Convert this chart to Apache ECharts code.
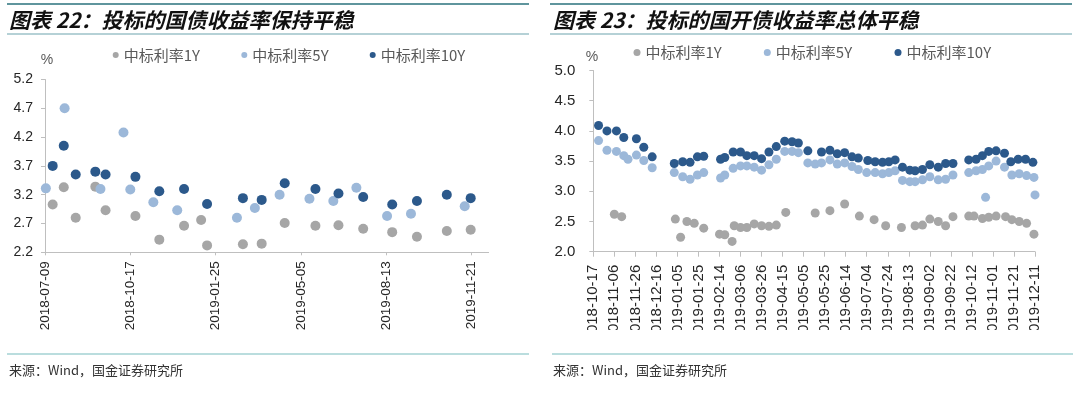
<!DOCTYPE html>
<html>
<head>
<meta charset="utf-8">
<script src="https://cdn.jsdelivr.net/npm/echarts@6/dist/echarts.min.js"></script>
<style>
html,body{margin:0;padding:0;background:#fff;}
#frame{position:absolute;left:0;top:0;width:1080px;height:393px;}
#c1{position:absolute;left:0;top:0;width:540px;height:393px;}
#c2{position:absolute;left:540px;top:0;width:540px;height:330px;}
</style>
</head>
<body>
<div id="frame"></div>
<div id="c1"></div>
<div id="c2"></div>
<script>
// ---------- Chart 1 data (国债) ----------
const c1Title = '图表 22：投标的国债收益率保持平稳';
const c1XTicks = ['2018-07-09','2018-10-17','2019-01-25','2019-05-05','2019-08-13','2019-11-21'];
const c1XEnd = '2019-12-11';
const c1YTicks = [2.2, 2.7, 3.2, 3.7, 4.2, 4.7, 5.2];
const c1Dates1Y = ['2018-07-18','2018-07-31','2018-08-14','2018-09-06','2018-09-18','2018-10-23','2018-11-20','2018-12-19','2019-01-08','2019-01-15','2019-02-26','2019-03-20','2019-04-16','2019-05-22','2019-06-18','2019-07-17','2019-08-20','2019-09-18','2019-10-23','2019-11-20'];
const c1Vals1Y = [3.03,3.33,2.80,3.34,2.93,2.83,2.42,2.66,2.76,2.32,2.34,2.35,2.71,2.66,2.67,2.61,2.55,2.47,2.57,2.59];
const c1Dates5Y = ['2018-07-10','2018-08-01','2018-09-12','2018-10-09','2018-10-17','2018-11-13','2018-12-11','2019-02-19','2019-03-12','2019-04-10','2019-05-15','2019-06-12','2019-07-09','2019-08-14','2019-09-11','2019-11-13'];
const c1Vals5Y = [3.31,4.70,3.30,4.28,3.29,3.07,2.93,2.80,2.97,3.20,3.13,3.09,3.32,2.83,2.87,3.00];
const c1Dates10Y = ['2018-07-18','2018-07-31','2018-08-14','2018-09-06','2018-09-18','2018-10-23','2018-11-20','2018-12-19','2019-01-15','2019-02-26','2019-03-20','2019-04-16','2019-05-22','2019-06-18','2019-07-17','2019-08-20','2019-09-18','2019-10-23','2019-11-20'];
const c1Vals10Y = [3.70,4.05,3.55,3.60,3.55,3.51,3.26,3.30,3.04,3.14,3.11,3.40,3.30,3.22,3.16,3.03,3.09,3.20,3.14];

// ---------- Chart 2 data (国开债) ----------
const c2Title = '图表 23：投标的国开债收益率总体平稳';
const c2XTicks = ['2018-10-17','2018-11-06','2018-11-26','2018-12-16','2019-01-05','2019-01-25','2019-02-14','2019-03-06','2019-03-26','2019-04-15','2019-05-05','2019-05-25','2019-06-14','2019-07-04','2019-07-24','2019-08-13','2019-09-02','2019-09-22','2019-10-12','2019-11-01','2019-11-21','2019-12-11'];
const c2YTicks = [2.0, 2.5, 3.0, 3.5, 4.0, 4.5, 5.0];
const c2Dates1Y = ['2018-11-06','2018-11-13','2019-01-03','2019-01-08','2019-01-14','2019-01-21','2019-01-30','2019-02-14','2019-02-19','2019-02-26','2019-02-28','2019-03-06','2019-03-12','2019-03-19','2019-03-26','2019-04-02','2019-04-09','2019-04-18','2019-05-16','2019-05-30','2019-06-13','2019-06-27','2019-07-11','2019-07-22','2019-08-06','2019-08-19','2019-08-26','2019-09-02','2019-09-10','2019-09-17','2019-09-24','2019-10-09','2019-10-14','2019-10-22','2019-10-28','2019-11-04','2019-11-13','2019-11-19','2019-11-26','2019-12-03','2019-12-10'];
const c2Vals1Y = [2.62,2.58,2.54,2.24,2.50,2.47,2.39,2.29,2.28,2.17,2.43,2.40,2.40,2.46,2.43,2.42,2.44,2.65,2.64,2.68,2.79,2.59,2.53,2.43,2.40,2.43,2.44,2.54,2.50,2.43,2.58,2.59,2.59,2.55,2.57,2.59,2.58,2.53,2.50,2.47,2.29];
const c2Dates5Y = ['2018-10-22','2018-10-30','2018-11-08','2018-11-15','2018-11-19','2018-11-27','2018-12-04','2018-12-12','2019-01-02','2019-01-10','2019-01-17','2019-01-24','2019-01-30','2019-02-15','2019-02-19','2019-02-27','2019-03-06','2019-03-12','2019-03-19','2019-03-26','2019-04-02','2019-04-09','2019-04-17','2019-04-24','2019-04-30','2019-05-09','2019-05-16','2019-05-22','2019-05-30','2019-06-06','2019-06-13','2019-06-20','2019-06-26','2019-07-04','2019-07-12','2019-07-19','2019-07-25','2019-07-31','2019-08-07','2019-08-14','2019-08-19','2019-08-26','2019-09-02','2019-09-10','2019-09-17','2019-09-24','2019-10-09','2019-10-16','2019-10-22','2019-10-25','2019-10-28','2019-11-04','2019-11-12','2019-11-19','2019-11-26','2019-12-03','2019-12-10','2019-12-11'];
const c2Vals5Y = [3.84,3.68,3.66,3.59,3.53,3.60,3.51,3.39,3.31,3.24,3.20,3.27,3.31,3.22,3.27,3.38,3.42,3.42,3.40,3.35,3.44,3.53,3.66,3.66,3.64,3.47,3.45,3.47,3.52,3.45,3.47,3.41,3.36,3.31,3.31,3.29,3.31,3.34,3.18,3.16,3.16,3.19,3.24,3.19,3.20,3.27,3.31,3.34,3.36,2.90,3.42,3.50,3.40,3.27,3.29,3.26,3.23,2.94];
const c2Dates10Y = ['2018-10-22','2018-10-30','2018-11-08','2018-11-15','2018-11-27','2018-12-04','2018-12-12','2019-01-02','2019-01-10','2019-01-17','2019-01-24','2019-01-30','2019-02-15','2019-02-19','2019-02-27','2019-03-06','2019-03-12','2019-03-19','2019-03-26','2019-04-02','2019-04-09','2019-04-17','2019-04-24','2019-04-30','2019-05-09','2019-05-22','2019-05-30','2019-06-06','2019-06-13','2019-06-20','2019-06-26','2019-07-05','2019-07-12','2019-07-19','2019-07-25','2019-07-31','2019-08-07','2019-08-14','2019-08-19','2019-08-26','2019-09-02','2019-09-10','2019-09-17','2019-09-24','2019-10-09','2019-10-16','2019-10-22','2019-10-28','2019-11-04','2019-11-12','2019-11-18','2019-11-25','2019-12-02','2019-12-09'];
const c2Vals10Y = [4.09,4.00,4.00,3.89,3.87,3.73,3.57,3.46,3.49,3.48,3.57,3.58,3.53,3.56,3.65,3.65,3.59,3.59,3.54,3.65,3.74,3.83,3.82,3.80,3.67,3.65,3.68,3.62,3.64,3.57,3.55,3.51,3.49,3.48,3.49,3.52,3.40,3.35,3.34,3.36,3.44,3.40,3.46,3.46,3.52,3.53,3.59,3.66,3.67,3.63,3.49,3.53,3.53,3.48];

const seriesNames = ['中标利率1Y','中标利率5Y','中标利率10Y'];
const colors = ['#a6a6a6','#9cb8d9','#2c598b'];
const sourceText = '来源：Wind，国金证券研究所';

// ---------- helpers ----------
const DAY = 86400000;
const dayOf = (d, base) => Math.round((Date.parse(d) - Date.parse(base)) / DAY);
const dateOf = (v, base) => new Date(Date.parse(base) + v * DAY).toISOString().slice(0, 10);
const pairs = (dates, vals, base) => dates.map((d, i) => [dayOf(d, base), vals[i]]);

const CJK = '"Noto Sans CJK SC", sans-serif';
const LAT = '"Liberation Sans", Arial, sans-serif';

// ---------- frame: titles, rules, source ----------
const frame = echarts.init(document.getElementById('frame'), null, {renderer: 'canvas'});
function line(x1, y1, x2, y2, c, w) {
  return {type: 'line', shape: {x1, y1, x2, y2}, style: {stroke: c, lineWidth: w}, silent: true};
}
function txt(x, y, text, o) {
  return {type: 'text', x, y, silent: true, style: Object.assign({text, fill: '#333', fontFamily: CJK, fontSize: 13, textVerticalAlign: 'middle'}, o || {})};
}
frame.setOption({
  backgroundColor: '#fff',
  graphic: [
    line(7, 4, 529, 4, '#5f959d', 2),
    line(7, 34, 529, 34, '#9cc2c8', 1.5),
    line(550, 4, 1072, 4, '#5f959d', 2),
    line(550, 34, 1072, 34, '#9cc2c8', 1.5),
    txt(9, 20, c1Title, {fill: '#111', fontSize: 21, fontWeight: 'bold', fontStyle: 'italic'}),
    txt(553, 20, c2Title, {fill: '#111', fontSize: 21, fontWeight: 'bold', fontStyle: 'italic'}),
    txt(47, 60, '%', {fill: '#595959', fontSize: 14, fontFamily: LAT, textAlign: 'center'}),
    txt(592, 57, '%', {fill: '#595959', fontSize: 14, fontFamily: LAT, textAlign: 'center'}),
    line(7, 354, 529, 354, '#a3d2d3', 1.5),
    line(552, 354, 1073, 354, '#a3d2d3', 1.5),
    txt(9, 370, sourceText, {fill: '#333', fontSize: 13}),
    txt(553, 370, sourceText, {fill: '#333', fontSize: 13})
  ]
});

// ---------- chart builder ----------
function build(el, cfg) {
  const chart = echarts.init(el, null, {renderer: 'canvas'});
  const base = cfg.xTicks[0];
  const xTickDays = cfg.xTicks.map(d => dayOf(d, base));
  const legends = seriesNames.map((n, i) => ({
    data: [n], left: cfg.legendLeft[i], top: cfg.legendTop, padding: 0,
    icon: 'circle', itemWidth: cfg.legendIcon, itemHeight: cfg.legendIcon, selectedMode: false,
    textStyle: {fontFamily: CJK, fontSize: 15, color: '#595959'}
  }));
  chart.setOption({
    backgroundColor: 'transparent',
    animation: false,
    color: colors,
    legend: legends,
    grid: Object.assign({containLabel: false, outerBoundsMode: 'none'}, cfg.grid),
    xAxis: {
      type: 'value', min: 0, max: dayOf(cfg.xEnd, base),
      splitLine: {show: false},
      axisLine: {show: true, lineStyle: {color: '#bfbfbf', width: 1}},
      axisTick: {show: true, customValues: xTickDays, length: cfg.xTickLen, lineStyle: {color: '#bfbfbf'}},
      axisLabel: {customValues: xTickDays, rotate: 90, margin: cfg.xLabelMargin,
        fontFamily: LAT, fontSize: cfg.xFont, color: '#262626',
        formatter: v => dateOf(v, base)}
    },
    yAxis: {
      type: 'value', min: cfg.yTicks[0], max: cfg.yTicks[cfg.yTicks.length - 1],
      splitLine: {show: false},
      axisLine: {show: true, lineStyle: {color: '#bfbfbf', width: 1}},
      axisTick: {show: true, customValues: cfg.yTicks, length: 4, lineStyle: {color: '#bfbfbf'}},
      axisLabel: {customValues: cfg.yTicks, margin: cfg.yLabelMargin,
        fontFamily: LAT, fontSize: cfg.yFont, color: '#262626',
        formatter: v => v.toFixed(1)}
    },
    series: cfg.data.map((d, i) => ({
      name: seriesNames[i], type: 'scatter', symbol: 'circle', symbolSize: cfg.symbolSize,
      itemStyle: {color: colors[i], opacity: 1}, data: pairs(d[0], d[1], base)
    }))
  });
}

build(document.getElementById('c1'), {
  xTicks: c1XTicks, xEnd: c1XEnd, yTicks: c1YTicks,
  grid: {left: 45, top: 79.5, width: 443.6, height: 172.8},
  legendLeft: [112.7, 241.3, 369.7], legendTop: 47.5, legendIcon: 6,
  xTickLen: 3, xLabelMargin: 9, xFont: 13.5, yFont: 14, yLabelMargin: 12,
  symbolSize: 10,
  data: [[c1Dates1Y, c1Vals1Y], [c1Dates5Y, c1Vals5Y], [c1Dates10Y, c1Vals10Y]]
});

build(document.getElementById('c2'), {
  xTicks: c2XTicks, xEnd: c2XTicks[c2XTicks.length - 1], yTicks: c2YTicks,
  grid: {left: 53.3, top: 70.5, width: 441.7, height: 181.2},
  legendLeft: [93.5, 223.8, 354.5], legendTop: 45, legendIcon: 7,
  xTickLen: 5, xLabelMargin: 13, xFont: 15, yFont: 15, yLabelMargin: 18,
  symbolSize: 9,
  data: [[c2Dates1Y, c2Vals1Y], [c2Dates5Y, c2Vals5Y], [c2Dates10Y, c2Vals10Y]]
});
</script>
</body>
</html>
